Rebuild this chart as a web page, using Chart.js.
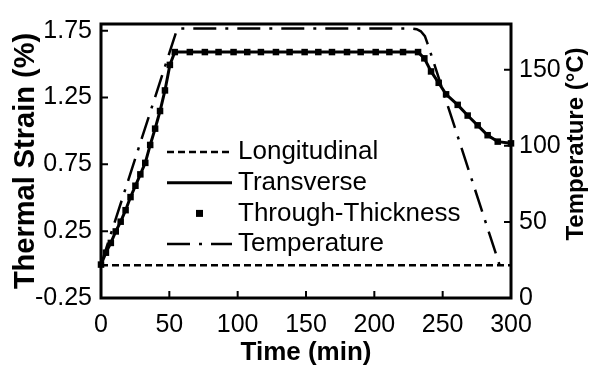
<!DOCTYPE html>
<html>
<head>
<meta charset="utf-8">
<title>Thermal strain vs time</title>
<script src="https://cdn.jsdelivr.net/npm/chart.js@4.4.1/dist/chart.umd.min.js"></script>
<style>
  html, body { margin: 0; padding: 0; background: #fff; }
  #chart { display: block; }
</style>
</head>
<body>
<canvas id="chart" width="593" height="366"></canvas>
<script>
// strain data, time in min, strain in %
const strainTime = [0, 3.6, 7.2, 10.8, 14.4, 18, 21.6, 25.2, 28.8, 32.4, 36, 39.6, 43.2, 46.8, 50.4, 54,
  65, 76, 86, 97, 107, 117, 128, 138, 149, 159, 169, 180, 190, 201, 211, 221, 232,
  236.6, 241.5, 247.1, 252.5, 261, 268.3, 275.6, 282.9, 290.3, 300];
const transverse = [0, 0.089, 0.162, 0.248, 0.321, 0.407, 0.505, 0.59, 0.675, 0.761, 0.895, 1.017, 1.149, 1.303, 1.494, 1.59,
  1.59, 1.59, 1.59, 1.59, 1.59, 1.59, 1.59, 1.59, 1.59, 1.59, 1.59, 1.59, 1.59, 1.59, 1.59, 1.59, 1.59,
  1.543, 1.445, 1.36, 1.274, 1.195, 1.115, 1.042, 0.968, 0.92, 0.907];
const throughThickness = [0, 0.089, 0.162, 0.248, 0.321, 0.407, 0.505, 0.59, 0.675, 0.761, 0.895, 1.017, 1.149, 1.303, 1.494, 1.59,
  1.59, 1.59, 1.59, 1.59, 1.59, 1.59, 1.59, 1.59, 1.59, 1.59, 1.59, 1.59, 1.59, 1.59, 1.59, 1.59, 1.59,
  1.543, 1.445, 1.36, 1.274, 1.195, 1.115, 1.042, 0.968, 0.92, 0.907];
const longTime = [0, 56, 232, 300];
const longitudinal = [-0.005, -0.005, -0.005, -0.005];

// cure cycle temperature (°C)
const tempTime = [0, 55.8, 228, 231, 234, 237, 239, 291.5];
const temperature = [22, 177, 177, 176.6, 175.2, 172, 167, 22];

const timeTicks = [0, 50, 100, 150, 200, 250, 300];
const strainTicks = [-0.25, 0.25, 0.75, 1.25, 1.75];
const tempTicks = [0, 50, 100, 150];
const tempTitle = 'Temperature (°C)';

const pts = (xs, ys) => xs.map((x, i) => ({ x: x, y: ys[i] }));

Chart.defaults.font.family = '"Liberation Sans", Arial, sans-serif';
Chart.defaults.color = '#000';

// frame, inward tick marks and the right axis title
const frameTicks = {
  id: 'frameTicks',
  afterDatasetsDraw(chart) {
    const { ctx, chartArea: a, scales } = chart;
    ctx.save();
    ctx.strokeStyle = '#000';
    ctx.lineWidth = 2;
    ctx.beginPath();
    scales.x.ticks.forEach(t => {
      const px = scales.x.getPixelForValue(t.value);
      if (px < a.left + 2 || px > a.right - 2) return;
      ctx.moveTo(px, a.bottom); ctx.lineTo(px, a.bottom - 7);
    });
    scales.y.ticks.forEach(t => {
      const py = scales.y.getPixelForValue(t.value);
      if (py > a.bottom - 2) return;
      ctx.moveTo(a.left, py); ctx.lineTo(a.left + 7, py);
    });
    scales.yT.ticks.forEach(t => {
      const py = scales.yT.getPixelForValue(t.value);
      if (py > a.bottom - 2) return;
      ctx.moveTo(a.right, py); ctx.lineTo(a.right - 7, py);
    });
    ctx.stroke();
    ctx.lineWidth = 3;
    ctx.strokeRect(a.left, a.top, a.right - a.left, a.bottom - a.top);

    ctx.translate(576, 144);
    ctx.rotate(-Math.PI / 2);
    ctx.font = 'bold 24px "Liberation Sans", Arial, sans-serif';
    ctx.fillStyle = '#000';
    ctx.textAlign = 'center';
    ctx.textBaseline = 'middle';
    ctx.fillText(tempTitle, 0, 0);
    ctx.restore();
  }
};

// legend inside the plot
const innerLegend = {
  id: 'innerLegend',
  afterDraw(chart) {
    const ctx = chart.ctx;
    const x0 = 167, x1 = 232;
    ctx.save();
    ctx.font = '26px "Liberation Sans", Arial, sans-serif';
    ctx.textBaseline = 'middle';
    ctx.fillStyle = '#000';
    ctx.strokeStyle = '#000';
    chart.data.datasets.forEach((ds, i) => {
      const y = 152 + i * 30.7;
      if (ds.showLine === false) {
        ctx.fillRect((x0 + x1) / 2 - 3.5, y - 3.5, 7, 7);
      } else {
        ctx.lineWidth = ds.borderWidth;
        ctx.setLineDash(ds.borderDash || []);
        ctx.beginPath();
        ctx.moveTo(x0, y); ctx.lineTo(x1, y);
        ctx.stroke();
        ctx.setLineDash([]);
      }
      ctx.fillText(ds.label, 238, y);
    });
    ctx.restore();
  }
};

new Chart(document.getElementById('chart'), {
  type: 'line',
  data: {
    datasets: [
      {
        label: 'Longitudinal',
        data: pts(longTime, longitudinal),
        borderColor: '#000',
        borderWidth: 2.5,
        borderDash: [7, 4],
        pointRadius: 0,
        yAxisID: 'y'
      },
      {
        label: 'Transverse',
        data: pts(strainTime, transverse),
        borderColor: '#000',
        borderWidth: 3,
        pointRadius: 0,
        yAxisID: 'y'
      },
      {
        label: 'Through-Thickness',
        data: pts(strainTime, throughThickness),
        showLine: false,
        pointStyle: 'rect',
        pointRadius: 4.6,
        pointBorderWidth: 0,
        pointBackgroundColor: '#000',
        clip: 6,
        yAxisID: 'y'
      },
      {
        label: 'Temperature',
        data: pts(tempTime, temperature),
        borderColor: '#000',
        borderWidth: 2.5,
        borderDash: [23, 9, 3, 9],
        pointRadius: 0,
        yAxisID: 'yT'
      }
    ]
  },
  options: {
    responsive: false,
    animation: false,
    devicePixelRatio: 1,
    layout: { padding: { top: 18, left: 0, right: 0, bottom: 0 } },
    plugins: {
      legend: { display: false },
      tooltip: { enabled: false }
    },
    scales: {
      x: {
        type: 'linear',
        min: 0,
        max: 300,
        afterBuildTicks: s => { s.ticks = timeTicks.map(v => ({ value: v })); },
        afterFit: s => { s.height = 68; },
        grid: { display: false, drawTicks: false },
        border: { display: false },
        ticks: { autoSkip: false, maxRotation: 0, padding: 12, font: { size: 25 } },
        title: {
          display: true,
          text: 'Time (min)',
          font: { size: 26, weight: 'bold', lineHeight: 1 },
          padding: { top: 1, bottom: 0 }
        }
      },
      y: {
        position: 'left',
        min: -0.25,
        max: 1.8,
        afterBuildTicks: s => { s.ticks = strainTicks.map(v => ({ value: v })); },
        afterFit: s => { s.width = 101; },
        grid: { display: false, drawTicks: false },
        border: { display: false },
        ticks: { autoSkip: false, padding: 9, font: { size: 25 }, callback: v => v.toFixed(2) },
        title: {
          display: true,
          text: 'Thermal Strain (%)',
          font: { size: 29, weight: 'bold', lineHeight: 1 },
          padding: { top: 11, bottom: 0 }
        }
      },
      yT: {
        position: 'right',
        min: 0,
        max: 180,
        afterBuildTicks: s => { s.ticks = tempTicks.map(v => ({ value: v })); },
        afterFit: s => { s.width = 82; },
        grid: { display: false, drawTicks: false },
        border: { display: false },
        ticks: { autoSkip: false, padding: 8, font: { size: 25 } }
      }
    }
  },
  plugins: [frameTicks, innerLegend]
});
</script>
</body>
</html>
